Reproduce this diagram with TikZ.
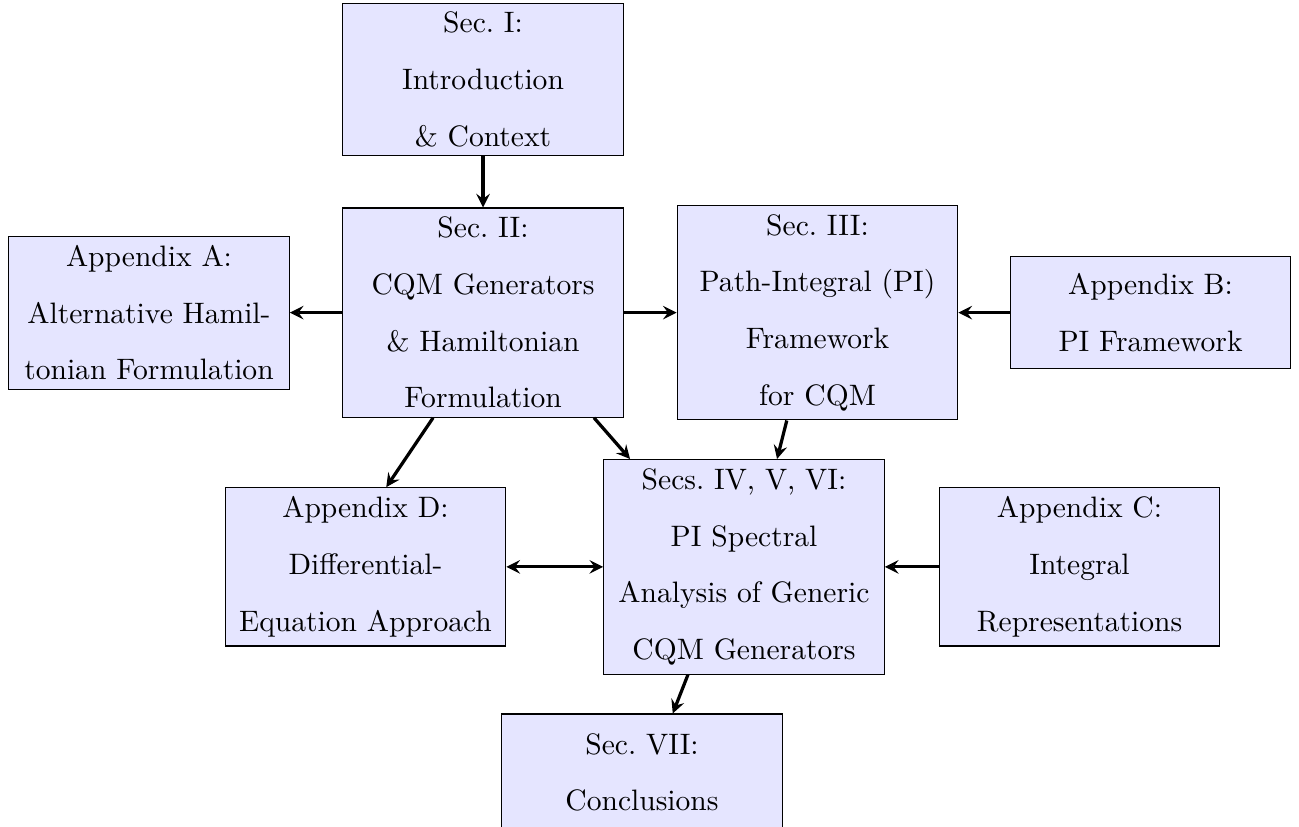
\documentclass[tikz,border=0pt]{standalone}
\usetikzlibrary{arrows}
\begin{document}
\begin{tikzpicture}[sec/.style={draw,fill=blue!10,text width=3.42cm,
        align=center,minimum height=1.45cm,
        font=\fontsize{10.95}{21}\selectfont},
      arr/.style={-stealth,very thick}]

    \useasboundingbox (0,0) rectangle (16.913,-10.755);

    \node[sec] (s1) at (6.289,-1.035) {Sec.~I:\\Introduction\\\& Context};
    \node[sec] (s2) at (6.289,-4.07) {Sec.~II:\\CQM Generators\\\&
      Hamiltonian\\Formulation};
    \node[sec] (appA) at (1.94,-4.07) {Appendix A:\\Alternative
      Hamil-\\tonian Formulation};
    \node[sec] (s3) at (10.644,-4.07) {Sec.~III:\\Path-Integral
      (PI)\\Framework\\for CQM};
    \node[sec] (appB) at (14.98,-4.07) {Appendix B:\\PI Framework};
    \node[sec] (s4) at (9.687,-7.38) {Secs.~IV, V, VI:\\PI
      Spectral\\Analysis of Generic\\CQM Generators};
    \node[sec] (appD) at (4.759,-7.38) {Appendix
      D:\\Differential-\\Equation Approach};
    \node[sec] (appC) at (14.055,-7.38) {Appendix
      C:\\Integral\\Representations};
    \node[sec,minimum height=1.52cm] (s7) at (8.359,-10.056)
    {Sec.~VII:\\Conclusions};

    \draw[arr] (s1) -- (s2);
    \draw[arr] (s2) -- (appA);
    \draw[arr] (s2) -- (s3);
    \draw[arr] (appB) -- (s3);
    \draw[arr] ([xshift=-0.65cm]s2.south) -- ([xshift=0.27cm]appD.north);
    \draw[arr] ([xshift=-0.39cm]s2.south east) --
    ([xshift=0.35cm]s4.north west);
    \draw[arr] ([xshift=-0.4cm]s3.south) -- ([xshift=0.43cm]s4.north);
    \draw[arr,stealth-stealth] (appD) -- (s4);
    \draw[arr] (appC) -- (s4);
    \draw[arr] ([xshift=-0.73cm]s4.south) -- ([xshift=0.4cm]s7.north);

  \end{tikzpicture}
\end{document}
